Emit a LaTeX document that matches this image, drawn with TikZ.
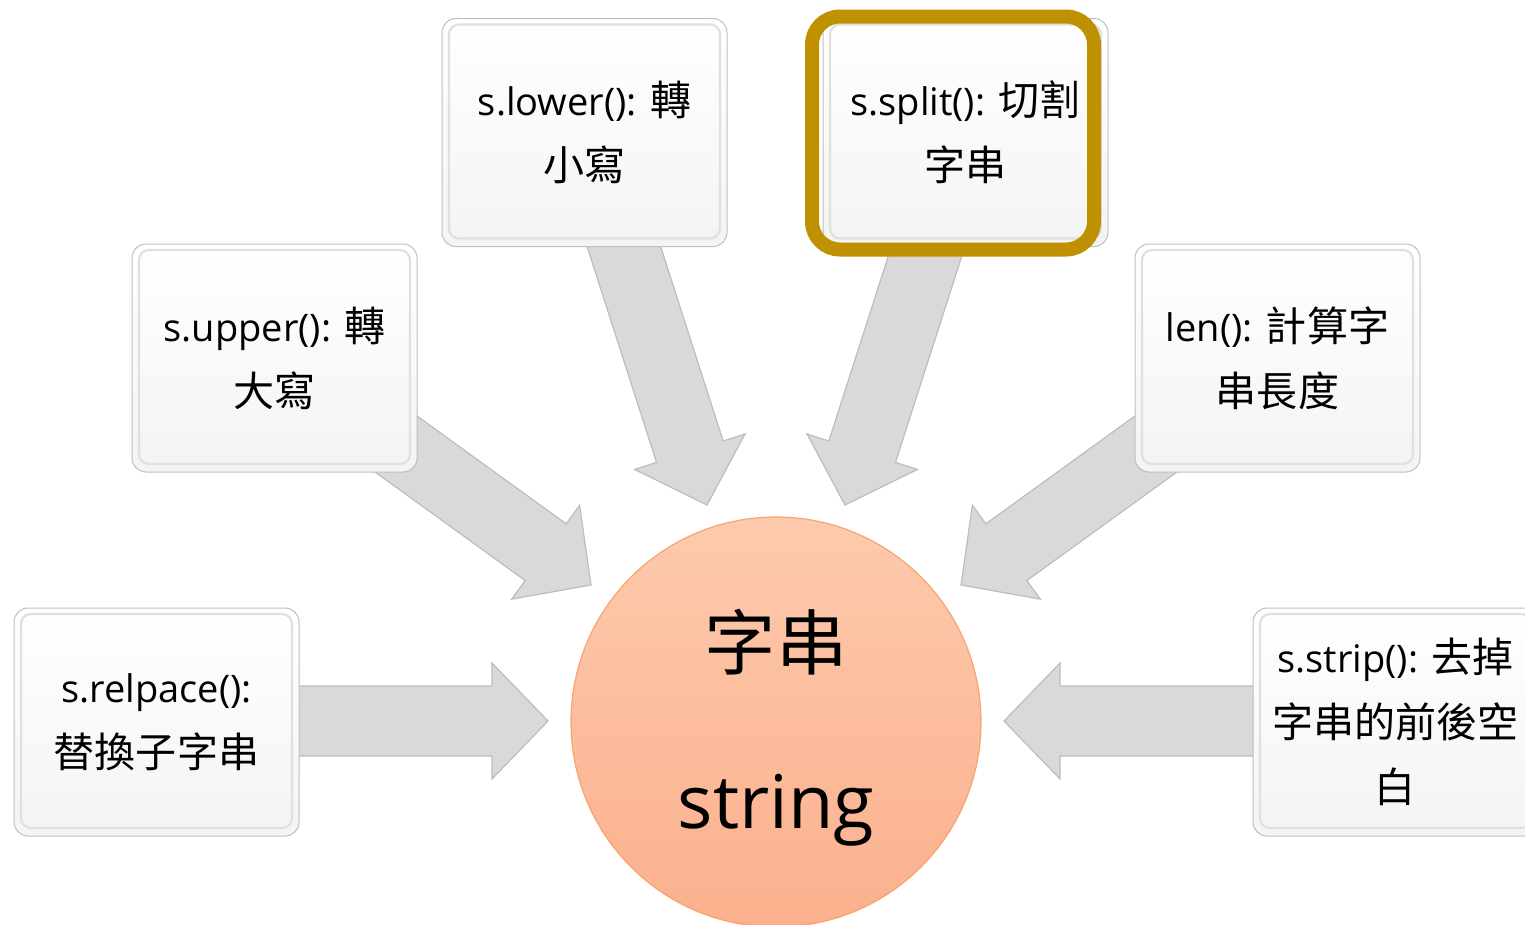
\documentclass[tikz,border=0pt]{standalone}
\usepackage{fontspec}
\setmainfont{Open Sans}
\newfontfamily\cjk[Scale=1.08]{Noto Sans CJK TC}
\usetikzlibrary{calc,backgrounds}

\definecolor{arrowfill}{HTML}{D9D9D9}
\definecolor{arrowline}{HTML}{BDBDBD}
\definecolor{goldrim}{HTML}{BF9000}
\definecolor{coretop}{HTML}{FDCAAD}
\definecolor{corebot}{HTML}{FBB08D}
\definecolor{corerim}{HTML}{F7A46E}

% block arrow from a start point #1 to a tip #2
\newcommand\blockarrow[2]{%
  \path coordinate (hb) at ($(#2)!56pt!(#1)$);
  \draw[blockarr]
    ($(#1)!35pt!90:(#2)$) -- ($(hb)!35pt!90:(#2)$) -- ($(hb)!58pt!90:(#2)$)
    -- (#2)
    -- ($(hb)!58pt!-90:(#2)$) -- ($(hb)!35pt!-90:(#2)$) -- ($(#1)!35pt!-90:(#2)$)
    -- cycle;}

\tikzset{
  blockarr/.style={fill=arrowfill, draw=arrowline, line width=1.2pt, line join=miter},
  infobox/.style={rectangle, rounded corners=14pt, draw=gray!50, line width=1pt,
    minimum width=285pt, minimum height=228pt, inner sep=0pt,
    top color=white, bottom color=gray!9, align=center,
    font=\fontsize{38}{65}\selectfont,
    path picture={
      \draw[gray!24, line width=2.2pt, rounded corners=10pt]
        ([shift={(7pt,-6pt)}]path picture bounding box.north west) rectangle
        ([shift={(-7pt,8pt)}]path picture bounding box.south east);}},
  core/.style={circle, minimum size=410pt, inner sep=0pt, draw=corerim, line width=1.2pt,
    top color=coretop, bottom color=corebot, align=center},
}

\begin{document}
\begin{tikzpicture}[x=1pt, y=-1pt]
\useasboundingbox (0,0) rectangle (1525,924);

% central circle
\node[core] (core) at (776,722) {};
\node[font=\fontsize{66}{80}\selectfont\cjk] (corecn) at (776,642) {字串};
\node[font=\fontsize{74}{90}\selectfont] (coreen) at (776,810) {string};

% method boxes
\node[infobox] (lower)   at (584.5,132.5) {s.lower(): {\cjk 轉}\\{\cjk 小寫}};
\node[infobox] (split)   at (965.5,132.5) {s.split(): {\cjk 切割}\\{\cjk 字串}};
\node[infobox] (upper)   at (274.5,358)   {s.upper(): {\cjk 轉}\\{\cjk 大寫}};
\node[infobox] (len)     at (1277.5,358)  {len(): {\cjk 計算字}\\{\cjk 串長度}};
\node[infobox] (replace) at (156.5,722)   {s.relpace():\\{\cjk 替換子字串}};
\node[infobox] (strip)   at (1395.5,722)  {s.strip(): {\cjk 去掉}\\{\cjk 字串的前後空}\\{\cjk 白}};

% highlight frame on the selected method
\draw[goldrim, line width=14pt, rounded corners=28pt] (812,16.5) rectangle (1094,249.5);

% arrow ends
\coordinate (sLower) at (615,219);   \coordinate (tLower) at (707,505);
\coordinate (sSplit) at (937,219);   \coordinate (tSplit) at (845,505);
\coordinate (sUpper) at (356,415);   \coordinate (tUpper) at (591,585);
\coordinate (sLen)   at (1196,415);  \coordinate (tLen)   at (961,585);
\coordinate (sRepl)  at (250,721);   \coordinate (tRepl)  at (548,721);
\coordinate (sStrip) at (1300,721);  \coordinate (tStrip) at (1004,721);

\begin{pgfonlayer}{background}
  \blockarrow{sLower}{tLower}
  \blockarrow{sSplit}{tSplit}
  \blockarrow{sUpper}{tUpper}
  \blockarrow{sLen}{tLen}
  \blockarrow{sRepl}{tRepl}
  \blockarrow{sStrip}{tStrip}
\end{pgfonlayer}
\end{tikzpicture}
\end{document}
